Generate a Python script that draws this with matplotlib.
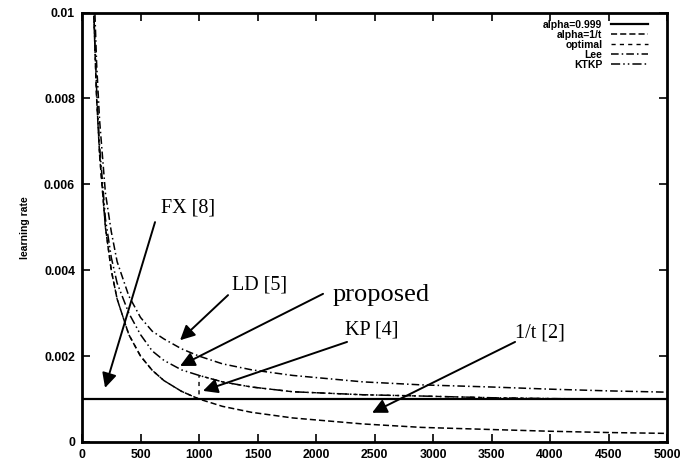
import matplotlib
matplotlib.use('Agg')
import matplotlib.pyplot as plt
from matplotlib.ticker import FuncFormatter

# values
fixed_t = [0, 5000]
fixed = [0.001, 0.001]
t = [90, 100, 125, 150, 200, 250, 300, 400, 500, 600, 700, 850, 1000,
     1200, 1450, 1800, 2400, 2900, 3500, 4000, 4500, 5000]
inv_t = [0.0111, 0.0100, 0.0080, 0.0067, 0.0050, 0.0040, 0.00333, 0.0025, 0.0020, 0.00167,
         0.00143, 0.00118, 0.0010, 0.00083, 0.00069, 0.00056, 0.00042, 0.00034, 0.00029,
         0.00025, 0.00022, 0.0002]
ktkp = [0.0112, 0.0101, 0.0082, 0.0069, 0.0052, 0.0043, 0.0037, 0.0030, 0.0025, 0.00212,
        0.0019, 0.00168, 0.00155, 0.0014, 0.00128, 0.00117, 0.0011, 0.00107, 0.00103,
        0.00101, 0.001, 0.001]
lee = [0.0118, 0.0108, 0.0088, 0.0075, 0.0058, 0.0049, 0.0042, 0.0034, 0.0029, 0.00258,
       0.0024, 0.00217, 0.0020, 0.00182, 0.00168, 0.00155, 0.0014, 0.00133, 0.00128,
       0.00123, 0.00119, 0.00116]
opt_t = [90, 100, 125, 150, 200, 250, 300, 400, 500, 600, 700, 850, 1000, 1000,
         1200, 1450, 1800, 2400, 2900, 3500, 4000, 4500, 5000]
optimal = [0.0111, 0.0100, 0.0080, 0.0067, 0.0050, 0.0040, 0.00333, 0.0025, 0.0020, 0.00167,
           0.00143, 0.00118, 0.0010, 0.00155, 0.0014, 0.00128, 0.00117, 0.0011, 0.00107,
           0.00103, 0.00101, 0.001, 0.001]

# (label, text pos, arrow tail, arrow tip, size)
notes = [
    ('FX [8]', (906, 0.00545), (624, 0.00512), (197, 0.00126), 14.5),
    ('LD [5]', (1282, 0.00366), (1248, 0.00342), (838, 0.00237), 14.5),
    ('proposed', (2137, 0.00343), (2060, 0.00345), (838, 0.00177), 19),
    ('KP [4]', (2248, 0.00261), (2265, 0.00233), (1034, 0.00119), 14.5),
    ('1/t [2]', (3701, 0.00254), (3701, 0.00233), (2479, 0.00068), 14.5),
]

fig = plt.figure(figsize=(6.8, 4.65), dpi=100)
ax = fig.add_axes([0.1206, 0.0495, 0.8604, 0.9235])

ax.plot(fixed_t, fixed, color='k', lw=1.6, ls='-', label='alpha=0.999')
ax.plot(t, inv_t, color='k', lw=1.1, ls=(0, (4, 2)), label='alpha=1/t')
ax.plot(opt_t, optimal, color='k', lw=1.0, ls=(0, (3, 3)), label='optimal')
ax.plot(t, lee, color='k', lw=1.1, ls=(0, (5, 2, 1, 2)), label='Lee')
ax.plot(t, ktkp, color='k', lw=1.1, ls=(0, (6, 2, 1, 2, 1, 2)), label='KTKP')

for label, txt, tail, tip, size in notes:
    ax.annotate('', xy=tip, xytext=tail,
                arrowprops=dict(arrowstyle='-|>', color='k', lw=1.4,
                                mutation_scale=22, shrinkA=0, shrinkB=0))
    ax.text(txt[0], txt[1], label, fontsize=size, family='Liberation Serif',
            ha='center' if label == 'FX [8]' else 'left', va='center')

ax.set_xlim(0, 5000)
ax.set_ylim(0, 0.01)
ax.set_xticks(range(0, 5001, 500))
ax.set_yticks([0, 0.002, 0.004, 0.006, 0.008, 0.01])
ax.yaxis.set_major_formatter(FuncFormatter(lambda v, p: '0' if v == 0 else '%g' % v))
ax.tick_params(direction='in', length=6, width=1.2, top=True, right=True,
               labelsize=8.8, pad=5)
for lab in ax.get_xticklabels() + ax.get_yticklabels():
    lab.set_fontweight('bold')
    lab.set_family('Liberation Sans')
for s in ax.spines.values():
    s.set_linewidth(2.0)
ax.set_ylabel('learning rate', fontsize=7.5, fontweight='bold', family='Liberation Sans',
              labelpad=10)

leg = ax.legend(loc='upper right', frameon=False, markerfirst=False,
                prop={'size': 7.5, 'weight': 'bold', 'family': 'Liberation Sans'},
                handlelength=3.6, labelspacing=0.0, handletextpad=0.8,
                borderaxespad=0.3, bbox_to_anchor=(0.98, 1.0))
for txt in leg.get_texts():
    txt.set_ha('right')
leg._legend_box.align = 'right'

fig.savefig('out.png', dpi=100)
